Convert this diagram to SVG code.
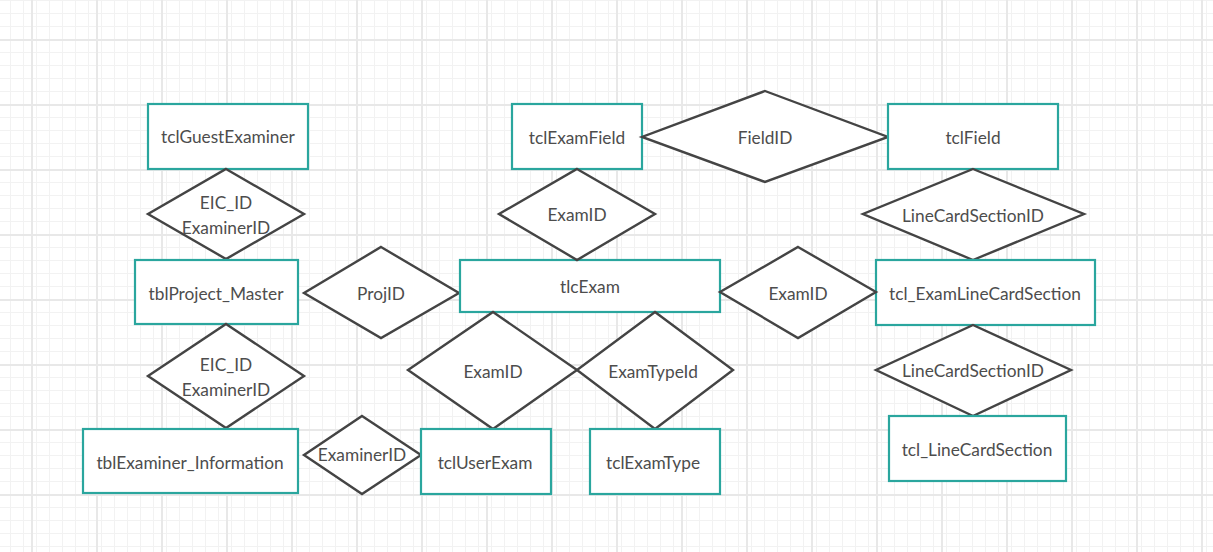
<svg xmlns="http://www.w3.org/2000/svg" width="1213" height="552" viewBox="0 0 1213 552">
<defs>
<pattern id="minor" x="31" y="39" width="13" height="13" patternUnits="userSpaceOnUse">
<path d="M0 0.5H13M0.5 0V13" fill="none" stroke="#f2f2f2" stroke-width="1"/>
</pattern>
<pattern id="major" x="31" y="39" width="65" height="65" patternUnits="userSpaceOnUse">
<rect width="65" height="65" fill="url(#minor)"/>
<path d="M0 1H65M1 0V65" fill="none" stroke="#e8e8e8" stroke-width="2"/>
</pattern>
<style>
.ent{fill:#fff;stroke:#2aa69e;stroke-width:2.2}
.rel{fill:#fff;stroke:#444;stroke-width:2.4;stroke-linejoin:miter}
text{font-family:Lato,"Open Sans","Liberation Sans",sans-serif;font-size:17.3px;fill:#4d4d4d;text-anchor:middle;dominant-baseline:central}
</style>
</defs>
<rect width="1213" height="552" fill="#fff"/>
<rect width="1213" height="552" fill="url(#major)"/>
<g id="connectors"/>
<g id="tclGuestExaminer"><rect class="ent" x="148" y="104" width="160" height="65"/><text x="228" y="136">tclGuestExaminer</text></g>
<g id="rel-eic-top"><polygon class="rel" points="226,169 304,214 226,259 148,214"/><text x="226" y="202">EIC_ID</text><text x="226" y="227">ExaminerID</text></g>
<g id="tblProject_Master"><rect class="ent" x="135" y="260" width="163" height="64"/><text x="216" y="293">tblProject_Master</text></g>
<g id="rel-eic-bottom"><polygon class="rel" points="226,324 304,376 226,428 148,376"/><text x="226" y="364">EIC_ID</text><text x="226" y="389">ExaminerID</text></g>
<g id="tblExaminer_Information"><rect class="ent" x="83" y="429" width="215" height="64"/><text x="190" y="462">tblExaminer_Information</text></g>
<g id="rel-projid"><polygon class="rel" points="381,247 459,293 381,338 304,293"/><text x="381" y="293">ProjID</text></g>
<g id="rel-examinerid"><polygon class="rel" points="362,416 421,455 362,494 304,455"/><text x="362" y="454">ExaminerID</text></g>
<g id="tlcExam"><rect class="ent" x="460" y="260" width="260" height="52"/><text x="590" y="286">tlcExam</text></g>
<g id="tclExamField"><rect class="ent" x="512" y="104" width="130" height="65"/><text x="577" y="137">tclExamField</text></g>
<g id="rel-examid-top"><polygon class="rel" points="577,169 655,214 577,260 499,214"/><text x="577" y="214">ExamID</text></g>
<g id="rel-fieldid"><polygon class="rel" points="765,91 888,137 765,182 642,137"/><text x="765" y="137">FieldID</text></g>
<g id="tclField"><rect class="ent" x="888" y="104" width="170" height="65"/><text x="973" y="137">tclField</text></g>
<g id="rel-lcs-top"><polygon class="rel" points="973,169 1084,214 973,260 863,214"/><text x="973" y="215">LineCardSectionID</text></g>
<g id="tcl_ExamLineCardSection"><rect class="ent" x="876" y="260" width="219" height="65"/><text x="985" y="293">tcl_ExamLineCardSection</text></g>
<g id="rel-examid-right"><polygon class="rel" points="798,247 876,292 798,338 720,292"/><text x="798" y="293">ExamID</text></g>
<g id="rel-lcs-bottom"><polygon class="rel" points="973,325 1071,370 973,416 876,370"/><text x="973" y="370">LineCardSectionID</text></g>
<g id="tcl_LineCardSection"><rect class="ent" x="889" y="416" width="177" height="65"/><text x="977" y="449">tcl_LineCardSection</text></g>
<g id="rel-examid-bottom"><polygon class="rel" points="493,312 577,370 493,429 408,370"/><text x="493" y="371">ExamID</text></g>
<g id="rel-examtypeid"><polygon class="rel" points="655,312 733,370 655,429 577,370"/><text x="653" y="371">ExamTypeId</text></g>
<g id="tclUserExam"><rect class="ent" x="421" y="429" width="130" height="65"/><text x="485" y="462">tclUserExam</text></g>
<g id="tclExamType"><rect class="ent" x="590" y="429" width="130" height="65"/><text x="653" y="462">tclExamType</text></g>
</svg>
